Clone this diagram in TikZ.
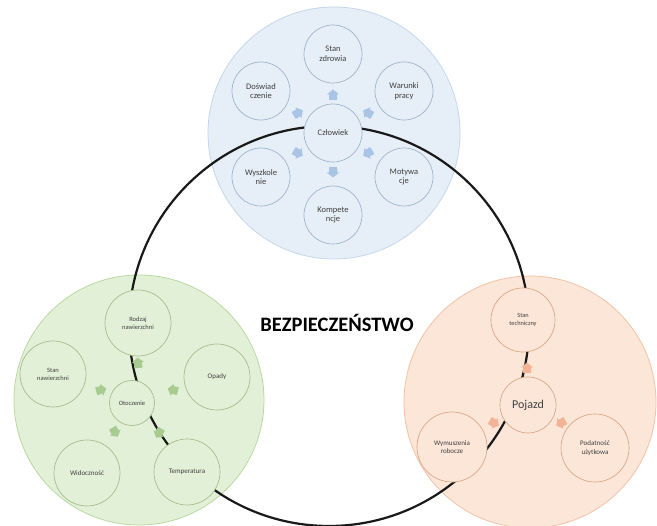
\documentclass[tikz,border=0pt]{standalone}
\usepackage{fontspec}
\setmainfont{Carlito}
\begin{document}
\begin{tikzpicture}[x=1pt,y=-1pt,
  bigblue/.style={circle,draw=bbord,fill=bfillc,line width=0.8pt,minimum size=252pt,inner sep=0},
  biggreen/.style={circle,draw=gbord,fill=gfillc,line width=0.8pt,minimum size=250pt,inner sep=0},
  bigorange/.style={circle,draw=obord,fill=ofillc,line width=0.8pt,minimum size=252pt,inner sep=0},
  sblue/.style={circle,draw=bsmall,fill=bfillc,line width=0.7pt,minimum size=#1,inner sep=0,align=center,font=\fontsize{8.5}{9.5}\selectfont,text=txt},
  sgreen/.style={circle,draw=gsmall,fill=gfillc,line width=0.7pt,minimum size=#1,inner sep=0,align=center,font=\fontsize{7}{8.5}\selectfont,text=txt},
  sorange/.style={circle,draw=osmall,fill=ofillc,line width=0.7pt,minimum size=#1,inner sep=0,align=center,font=\fontsize{7}{8.5}\selectfont,text=txt},
  blk/.style={line width=2.2pt,draw=black!90},
  pics/arr/.style={code={\fill[#1] (-5,-4) -- (0.5,-4) -- (0.5,-6.2) -- (5.5,0) -- (0.5,6.2) -- (0.5,4) -- (-5,4) -- cycle;}}
]
\definecolor{bfillc}{HTML}{E6EEF7}
\definecolor{bbord}{HTML}{C5D7EA}
\definecolor{bsmall}{HTML}{9FB4CC}
\definecolor{barr}{HTML}{A9C4E4}
\definecolor{gfillc}{HTML}{E3F0D8}
\definecolor{gbord}{HTML}{B9D9A0}
\definecolor{gsmall}{HTML}{A3BE8E}
\definecolor{garr}{HTML}{A8CB92}
\definecolor{ofillc}{HTML}{FCE6D8}
\definecolor{obord}{HTML}{F3C3A6}
\definecolor{osmall}{HTML}{D9A987}
\definecolor{oarr}{HTML}{F2B398}
\definecolor{txt}{HTML}{404040}
\useasboundingbox (0,0) rectangle (657,526);
% big circles
\node[bigblue] (bigB) at (334,133) {};
\node[biggreen] (bigG) at (139,400) {};
\node[bigorange] (bigO) at (530,402) {};
% black ring
\draw[blk] (329,326) circle[radius=200];
% title
\node[font=\bfseries\fontsize{20.5}{21}\selectfont] (title) at (337,323) {BEZPIECZEŃSTWO};
% blue group
\node[sblue=58pt] (czl) at (333,133) {Człowiek};
\node[sblue=58pt] (zdr) at (333,54) {Stan\\zdrowia};
\node[sblue=58pt] (dos) at (261,91) {Doświad\\czenie};
\node[sblue=58pt] (war) at (404,91) {Warunki\\pracy};
\node[sblue=58pt] (wys) at (261,177) {Wyszkole\\nie};
\node[sblue=58pt] (mot) at (404,177) {Motywa\\cje};
\node[sblue=58pt] (kom) at (333,215) {Kompete\\ncje};
\pic[rotate=90] at (333,95) {arr=barr};
\pic[rotate=30] at (298,113) {arr=barr};
\pic[rotate=150] at (368,113) {arr=barr};
\pic[rotate=-30] at (298,153) {arr=barr};
\pic[rotate=-150] at (368,153) {arr=barr};
\pic[rotate=-90] at (333,172) {arr=barr};
% green group
\node[sgreen=45pt,font=\fontsize{6.5}{8}\selectfont] (oto) at (132,403) {Otoczenie};
\node[sgreen=66pt,font=\fontsize{6.5}{8}\selectfont] (rod) at (138,323) {Rodzaj\\nawierzchni};
\node[sgreen=66pt,font=\fontsize{6.5}{8}\selectfont] (stn) at (53,374) {Stan\\nawierzchni};
\node[sgreen=66pt] (opa) at (217,377) {Opady};
\node[sgreen=66pt] (wid) at (87,473) {Widoczność};
\node[sgreen=66pt] (tem) at (187,472) {Temperatura};
\pic[rotate=95] at (138,363) {arr=garr};
\pic[rotate=15] at (101,390) {arr=garr};
\pic[rotate=165] at (173,390) {arr=garr};
\pic[rotate=-60] at (115,432) {arr=garr};
\pic[rotate=-120] at (159,433) {arr=garr};
% orange group
\node[sorange=56pt,font=\fontsize{12}{13}\selectfont] (poj) at (528,405) {Pojazd};
\node[sorange=64pt,font=\fontsize{6.3}{7.5}\selectfont] (ste) at (523,320) {Stan\\techniczny};
\node[sorange=70pt,font=\fontsize{7}{8.5}\selectfont] (wym) at (452,447) {Wymuszenia\\robocze};
\node[sorange=68pt,font=\fontsize{7}{8.5}\selectfont] (pod) at (595,448) {Podatność\\użytkowa};
\pic[rotate=90] at (527,368) {arr=oarr};
\pic[rotate=-30] at (494,423) {arr=oarr};
\pic[rotate=-150] at (561,423) {arr=oarr};
\end{tikzpicture}
\end{document}
